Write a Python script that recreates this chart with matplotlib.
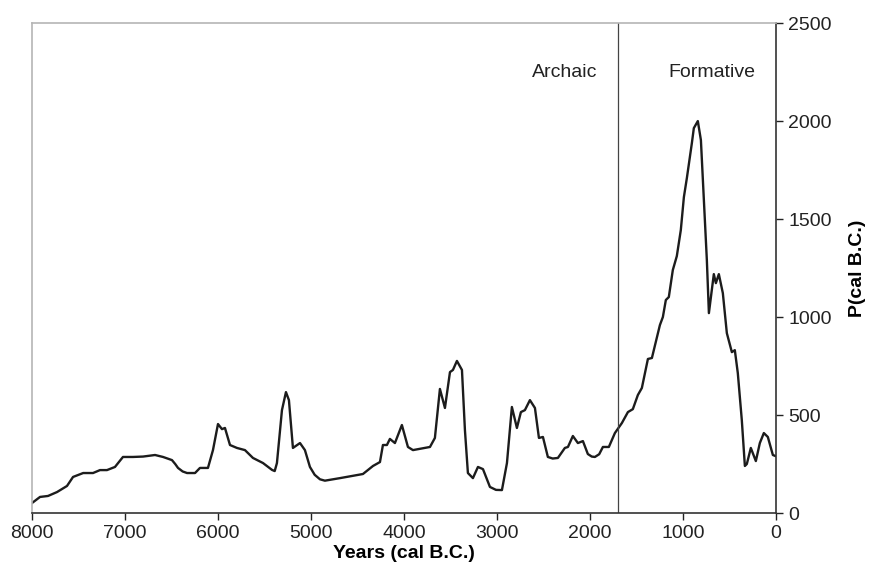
import matplotlib
matplotlib.use('Agg')
import matplotlib.pyplot as plt

plt.rcParams['font.family'] = ['Liberation Sans', 'DejaVu Sans']

# Summed probability curve
years = [8000, 7914, 7828, 7731, 7624, 7559, 7450, 7344, 7269, 7194, 7108, 7022,
         6914, 6806, 6677, 6591, 6495, 6460, 6430, 6380, 6333, 6247, 6194, 6108, 6054, 6000,
         5957, 5925, 5871, 5796, 5710, 5624, 5516, 5419, 5390, 5366, 5312, 5269, 5237,
         5194, 5118, 5065, 5011, 4960, 4903, 4850, 4688, 4441, 4333, 4258, 4226, 4183, 4151,
         4097, 4022, 3957, 3903, 3720, 3667, 3613, 3559, 3505, 3473, 3430, 3376,
         3344, 3312, 3258, 3204, 3150, 3075, 3010, 2946, 2892, 2839, 2785, 2742, 2699,
         2645, 2591, 2548, 2505, 2452, 2400, 2344, 2269, 2236, 2183, 2129, 2075, 2022,
         1980, 1946, 1900, 1860, 1796, 1731, 1656, 1591, 1538, 1484, 1441, 1376, 1333, 1247,
         1215, 1183, 1151, 1108, 1065, 1022, 989, 957, 903, 882, 839, 806, 774,
         742, 720, 688, 667, 645, 613, 570, 527, 473, 441, 409, 366, 333, 312,
         269, 215, 172, 129, 86, 32, 0]
prob = [51, 82, 87, 107, 138, 184, 204, 204, 219, 219, 235, 286,
        286, 288, 296, 286, 270, 250, 230, 212, 204, 204, 230, 230, 321, 454,
        428, 434, 347, 332, 321, 281, 255, 220, 214, 255, 525, 617, 576,
        332, 357, 321, 235, 195, 172, 165, 178, 199, 240, 260, 347, 347, 378,
        357, 449, 337, 321, 337, 383, 633, 536, 719, 730, 776, 730,
        423, 204, 178, 235, 224, 133, 118, 117, 255, 541, 434, 515, 525,
        576, 536, 383, 388, 286, 278, 281, 332, 337, 393, 357, 367, 301,
        288, 286, 300, 337, 337, 408, 459, 515, 530, 602, 638, 786, 791, 959,
        1000, 1087, 1102, 1240, 1311, 1444, 1612, 1709, 1888, 1964, 2000, 1903, 1597,
        1291, 1020, 1138, 1219, 1173, 1219, 1122, 918, 821, 831, 714, 474, 240, 250,
        332, 265, 357, 408, 388, 296, 290]

boundary = 1700

fig = plt.figure(figsize=(8.73, 5.73), dpi=100)
ax = fig.add_axes([0.0367, 0.1047, 0.852, 0.855])

ax.plot(years, prob, color='#1c1c1c', linewidth=1.7, solid_joinstyle='round')
ax.axvline(boundary, color='#444444', linewidth=0.9)

ax.set_xlim(8000, 0)
ax.set_ylim(0, 2500)
ax.set_xticks(range(8000, -1, -1000))
ax.set_yticks(range(0, 2501, 500))

ax.yaxis.tick_right()
ax.yaxis.set_label_position('right')
ax.tick_params(axis='both', direction='out', length=5, width=1, labelsize=14, colors='#222222')
ax.tick_params(axis='y', pad=4)

for s in ['top', 'left']:
    ax.spines[s].set_color('#b5b5b5')
    ax.spines[s].set_linewidth(1.2)
for s in ['bottom', 'right']:
    ax.spines[s].set_color('#333333')
    ax.spines[s].set_linewidth(1.2)

ax.set_xlabel('Years (cal B.C.)', fontsize=14, fontweight='bold', labelpad=2)
ax.set_ylabel('P(cal B.C.)', fontsize=14, fontweight='bold', labelpad=12)

ax.text(2269, 2250, 'Archaic', fontsize=14, ha='center', va='center', color='#222222')
ax.text(688, 2250, 'Formative', fontsize=14, ha='center', va='center', color='#222222')

fig.savefig('out.png', dpi=100)
